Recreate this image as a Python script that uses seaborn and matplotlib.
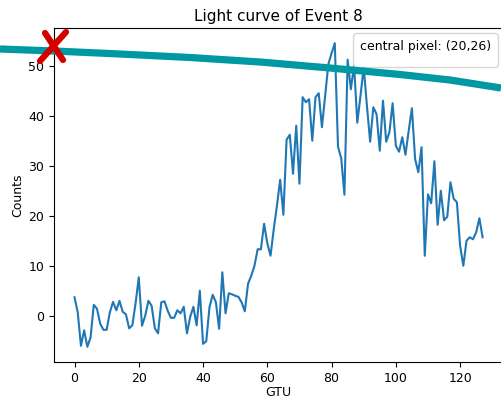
import matplotlib
matplotlib.use("Agg")
import matplotlib.pyplot as plt
from matplotlib.lines import Line2D
import numpy as np
import pandas as pd
import seaborn as sns

title = "Light curve of Event 8"
legend_text = "central pixel: (20,26)"
x_label = "GTU"
y_label = "Counts"

counts = [
    3.7, 0.7, -6.0, -2.9, -6.2, -4.3, 2.2, 1.4, -1.6, -2.8,
    -2.8, 0.7, 2.8, 1.1, 3.0, 0.8, 0.3, -2.5, -1.9, 2.5,
    7.7, -2.0, 0.0, 3.0, 2.0, -2.5, -3.5, 2.7, 2.9, 1.0,
    -0.4, -0.4, 1.1, 0.5, 1.8, -3.5, -0.2, 1.8, -1.9, 5.0,
    -5.6, -5.1, 1.7, 4.2, 2.7, -2.6, 8.7, 0.5, 4.5, 4.3,
    4.0, 3.8, 2.7, 0.9, 6.4, 8.0, 10.0, 13.3, 13.3, 18.4,
    14.5, 12.0, 17.3, 22.0, 27.2, 20.2, 35.2, 36.2, 28.4, 38.0,
    26.4, 43.7, 42.7, 43.3, 35.0, 43.7, 44.5, 37.7, 44.0, 50.3,
    52.5, 54.5, 33.8, 31.5, 24.2, 51.2, 45.3, 50.1, 38.6, 44.0,
    49.7, 42.0, 34.8, 41.7, 40.3, 33.0, 43.0, 34.8, 36.7, 42.5,
    34.0, 32.8, 35.7, 32.2, 37.0, 41.5, 31.3, 28.7, 33.7, 12.0,
    24.3, 22.5, 30.9, 18.2, 25.0, 19.1, 19.8, 26.7, 23.4, 22.7,
    14.0, 10.0, 15.0, 15.7, 15.3, 16.7, 19.5, 15.7,
]
gtu = list(range(len(counts)))

# overlay annotation (figure pixel coords, origin top-left)
stroke_px_x = [0, 54, 120, 190, 260, 330, 400, 450, 501]
stroke_px_y = [49, 51, 54, 57.5, 62, 68, 74.5, 80, 88]
cross_a_x = [40, 66]
cross_a_y = [61, 32]
cross_b_x = [45, 63]
cross_b_y = [33, 60]

df = pd.DataFrame({"GTU": gtu, "Counts": counts})

W, H = 501, 400
plt.rcParams["font.family"] = ["DejaVu Sans"]
fig = plt.figure(figsize=(W / 100, H / 100), dpi=100)
ax = fig.add_axes([0.108, 0.095, 0.896, 0.835])
sns.lineplot(data=df, x="GTU", y="Counts", ax=ax, color="#1f77b4", linewidth=1.5)
ax.set_title(title, fontsize=11, pad=5)
ax.set_xlabel(x_label, fontsize=9, labelpad=1)
ax.set_ylabel(y_label, fontsize=9, labelpad=3)
ax.set_xticks([0, 20, 40, 60, 80, 100, 120])
ax.set_yticks([0, 10, 20, 30, 40, 50])
ax.tick_params(labelsize=9)
leg = ax.legend(handles=[], title=legend_text, loc="upper right",
                title_fontsize=9, borderpad=0.5, borderaxespad=0.35)

def px(xs, ys):
    return [x / W for x in xs], [1 - y / H for y in ys]

sx, sy = px(stroke_px_x, stroke_px_y)
fig.add_artist(Line2D(sx, sy, transform=fig.transFigure, color="#0098a3",
                      linewidth=5.2, solid_capstyle="butt",
                      solid_joinstyle="round", zorder=10))
for cx, cy in [(cross_a_x, cross_a_y), (cross_b_x, cross_b_y)]:
    fx, fy = px(cx, cy)
    fig.add_artist(Line2D(fx, fy, transform=fig.transFigure, color="#d40000",
                          linewidth=4.5, solid_capstyle="round", zorder=11))

fig.savefig("out.png", dpi=100)
